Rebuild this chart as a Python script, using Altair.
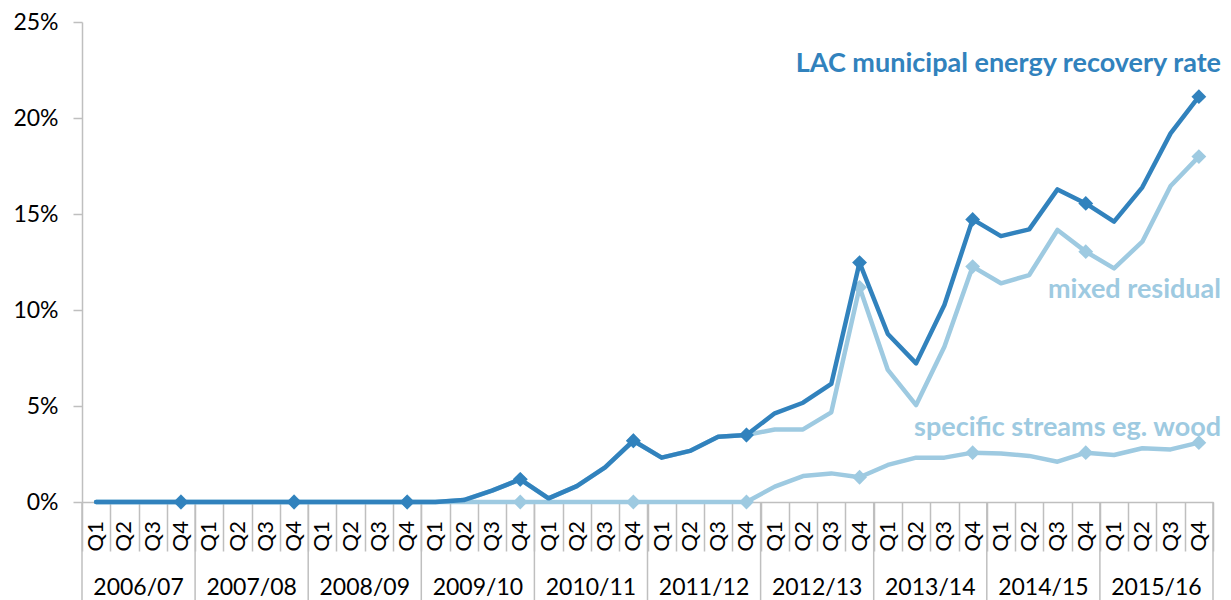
import altair as alt
import pandas as pd

years = ["2006/07", "2007/08", "2008/09", "2009/10", "2010/11",
         "2011/12", "2012/13", "2013/14", "2014/15", "2015/16"]
quarters = ["Q1", "Q2", "Q3", "Q4"]

series_names = ["specific streams eg. wood", "mixed residual",
                "LAC municipal energy recovery rate"]

# values in percent, one per quarter (40 quarters)
lac = [0.00, 0.00, 0.00, 0.00,
       0.00, 0.00, 0.00, 0.00,
       0.00, 0.00, 0.00, 0.00,
       0.00, 0.10, 0.59, 1.18,
       0.19, 0.83, 1.80, 3.19,
       2.31, 2.66, 3.40, 3.49,
       4.62, 5.17, 6.15, 12.47,
       8.75, 7.22, 10.26, 14.72,
       13.85, 14.20, 16.28, 15.55,
       14.60, 16.39, 19.20, 21.11]

mixed = [0.00, 0.00, 0.00, 0.00,
         0.00, 0.00, 0.00, 0.00,
         0.00, 0.00, 0.00, 0.00,
         0.00, 0.10, 0.59, 1.18,
         0.19, 0.83, 1.80, 3.19,
         2.31, 2.66, 3.40, 3.49,
         3.78, 3.78, 4.67, 11.18,
         6.88, 5.05, 8.09, 12.26,
         11.39, 11.82, 14.17, 13.04,
         12.17, 13.56, 16.46, 17.99]

specific = [0.00, 0.00, 0.00, 0.00,
            0.00, 0.00, 0.00, 0.00,
            0.00, 0.00, 0.00, 0.00,
            0.00, 0.00, 0.00, 0.00,
            0.00, 0.00, 0.00, 0.00,
            0.00, 0.00, 0.00, 0.00,
            0.80, 1.35, 1.49, 1.29,
            1.93, 2.31, 2.31, 2.57,
            2.53, 2.40, 2.10, 2.57,
            2.45, 2.80, 2.74, 3.09]

y_ticks = [0, 0.05, 0.10, 0.15, 0.20, 0.25]

# ---------------------------------------------------------------- data
periods = [f"{y} {q}" for y in years for q in quarters]
rows = []
for name, vals in zip(series_names, [specific, mixed, lac]):
    for i, p in enumerate(periods):
        rows.append({"period": p, "year": years[i // 4],
                     "quarter": quarters[i % 4],
                     "series": name, "value": vals[i] / 100})
df = pd.DataFrame(rows)
cats = pd.DataFrame({"period": periods,
                     "year": [years[i // 4] for i in range(len(periods))],
                     "quarter": [quarters[i % 4] for i in range(len(periods))]})

DARK = "#3182bd"
LIGHT = "#9ecae1"
GREY = "#bfbfbf"
colors = {series_names[0]: LIGHT, series_names[1]: LIGHT, series_names[2]: DARK}

W, H = 1131, 480
FONT = "Lato"

xscale = alt.Scale(type="band", domain=periods, paddingInner=0, paddingOuter=0)
xaxis = alt.Axis(title=None, labels=False, ticks=True, tickBand="extent",
                 tickSize=49, tickColor=GREY, tickWidth=1.5,
                 domainColor=GREY, domainWidth=1.5, grid=False)
yscale = alt.Scale(domain=[0, 0.25], nice=False, zero=True)
yaxis = alt.Axis(title=None, values=y_ticks, format=".0%", grid=False,
                 tickSize=9, tickColor=GREY, tickWidth=1.5,
                 domainColor=GREY, domainWidth=1.5,
                 labelFont=FONT, labelFontSize=23, labelColor="#000000",
                 labelPadding=15)


def X(bp=0.5):
    return alt.X("period:O", scale=xscale, bandPosition=bp, axis=xaxis)


def Y():
    return alt.Y("value:Q", scale=yscale, axis=yaxis)


layers = []
base = alt.Chart(df)
for name in series_names:
    sub = base.transform_filter(alt.datum.series == name)
    line = sub.mark_line(color=colors[name], strokeWidth=4.5,
                         strokeJoin="round", strokeCap="round").encode(
        x=X(0.5), y=Y())
    pts = sub.transform_filter(alt.datum.quarter == "Q4").mark_point(
        shape="diamond", filled=True, size=220, opacity=1,
        color=colors[name]).encode(x=X(0.5), y=Y())
    layers += [line, pts]

cat_base = alt.Chart(cats)
q_labels = cat_base.mark_text(angle=270, align="right", baseline="middle",
                              font=FONT, fontSize=22, color="#000000").encode(
    x=X(0.5), y=alt.value(H + 19), text="quarter:N")

year_labels = cat_base.transform_filter(alt.datum.quarter == "Q2").mark_text(
    align="center", baseline="alphabetic", font=FONT, fontSize=23,
    color="#000000").encode(x=X(1.0), y=alt.value(H + 93), text="year:N")

year_sep = cat_base.transform_filter(alt.datum.quarter == "Q1").mark_rule(
    color=GREY, strokeWidth=1.5).encode(
    x=X(0.0), y=alt.value(H), y2=alt.value(H + 100))
end_sep = cat_base.transform_filter(alt.datum.period == periods[-1]).mark_rule(
    color=GREY, strokeWidth=1.5).encode(
    x=X(1.0), y=alt.value(H), y2=alt.value(H + 100))

ann = pd.DataFrame({"label": series_names,
                    "value": [0.0344, 0.106, 0.224],
                    "period": [periods[-1]] * 3})
ann_layer = alt.Chart(ann).mark_text(
    align="right", baseline="alphabetic", font=FONT, fontSize=27,
    fontWeight="bold", dx=8).encode(
    x=X(1.0),
    y=Y(),
    text="label:N",
    color=alt.Color("label:N", scale=alt.Scale(domain=series_names,
                                               range=[LIGHT, LIGHT, DARK]),
                    legend=None))

chart = alt.layer(year_sep, end_sep, *layers, q_labels, year_labels, ann_layer).properties(
    width=W, height=H,
    autosize=alt.AutoSizeParams(type="none"),
    padding={"left": 74, "top": 14, "right": 10, "bottom": 98},
).configure(font=FONT).configure_view(stroke=None)

chart.save("out.html", embed_options={"renderer": "svg", "actions": False})
